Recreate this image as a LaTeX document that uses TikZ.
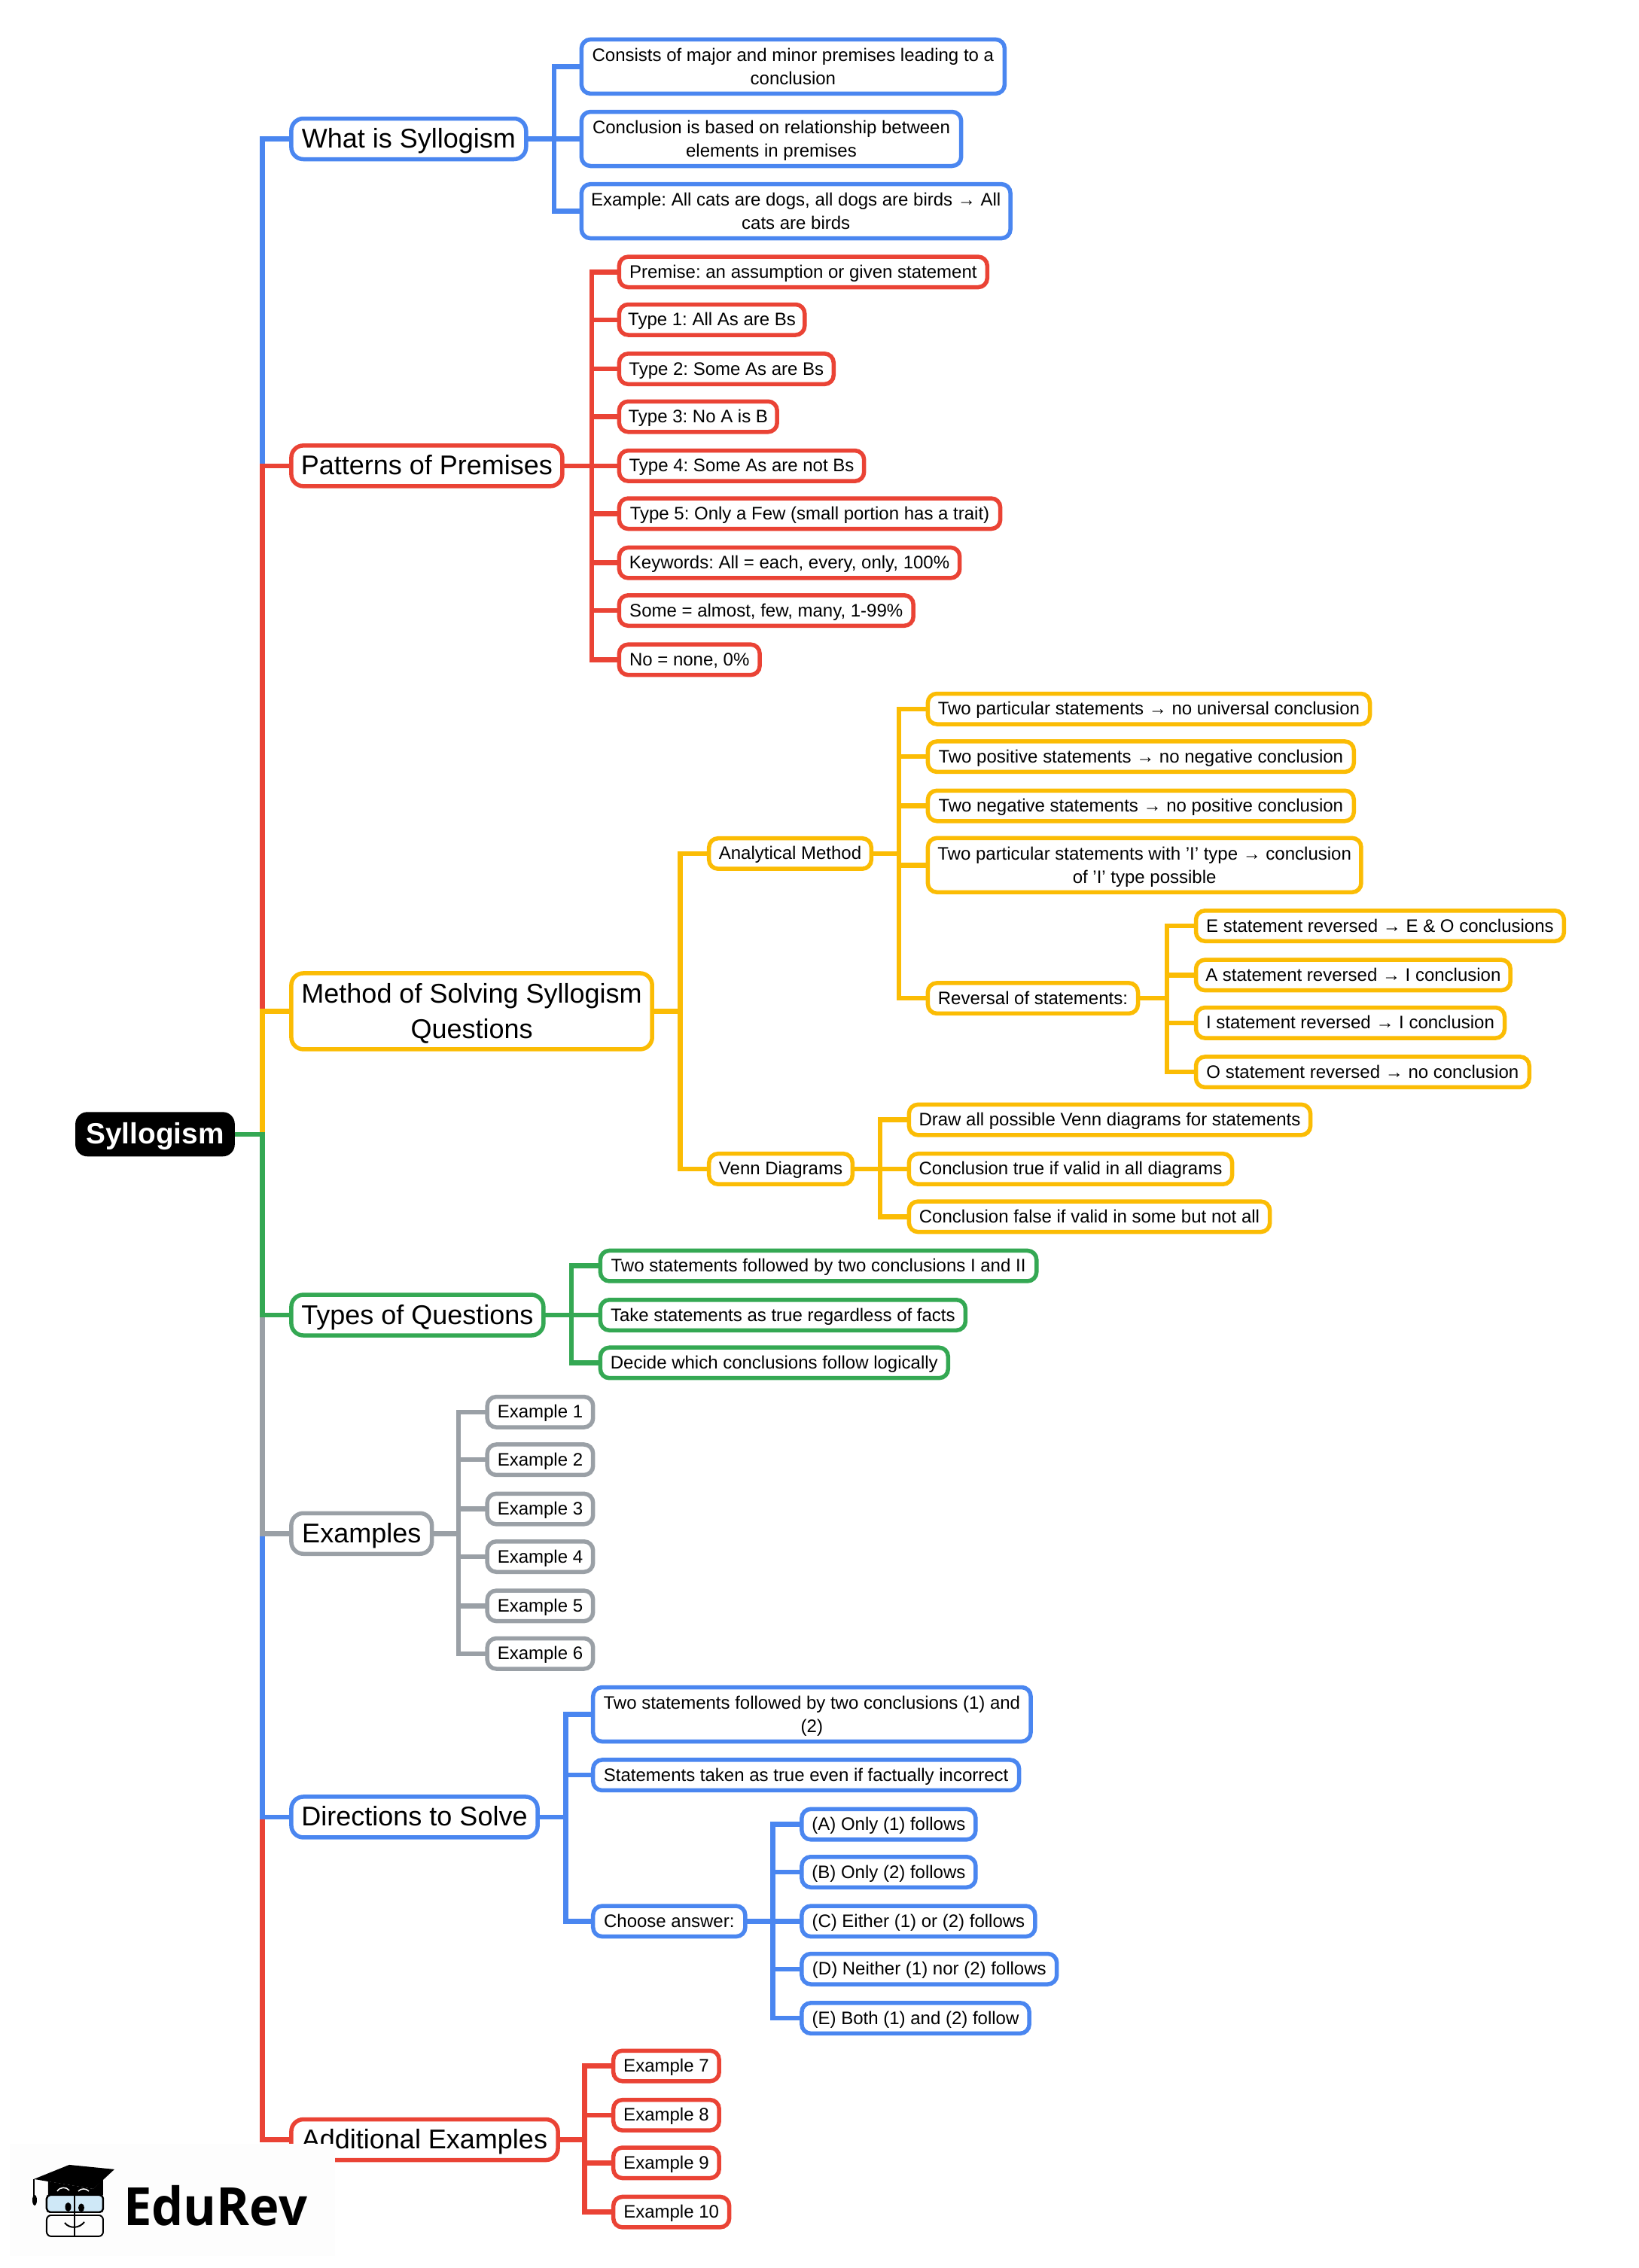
\documentclass[tikz,border=0pt]{standalone}
\usepackage{fontspec}
\setmainfont{Liberation Sans}
\newfontfamily\logofont{Open Sans}
\AtBeginDocument{\frenchspacing}
\definecolor{cblue}{HTML}{4A86F0}
\definecolor{cred}{HTML}{EA4335}
\definecolor{cyellow}{HTML}{FBBC04}
\definecolor{cgreen}{HTML}{34A853}
\definecolor{cgray}{HTML}{9AA0A6}
\definecolor{logobg}{HTML}{FDFDFD}
\definecolor{logoglass}{HTML}{CFE8F7}
\tikzset{
  basebox/.style={rounded corners=12pt,line width=5.5pt,fill=white,text=black,anchor=west,align=center,inner xsep=1pt,inner ysep=0pt,outer sep=0pt},
  small/.style={basebox,xshift=-1.5pt,draw=#1,minimum height=40.5pt,text height=17pt,text depth=1pt,font=\fontsize{24}{31}\selectfont},
  small2/.style={basebox,xshift=-1.5pt,draw=#1,minimum height=72pt,font=\fontsize{24}{31}\selectfont},
  large/.style={basebox,draw=#1,rounded corners=16pt,minimum height=54pt,text height=25pt,text depth=1pt,font=\fontsize{36}{47}\selectfont},
  large2/.style={basebox,draw=#1,rounded corners=16pt,minimum height=101pt,font=\fontsize{36}{47}\selectfont},
  rootbox/.style={fill=black,text=white,rounded corners=16pt,minimum height=59pt,anchor=west,inner xsep=1pt,inner ysep=0pt,outer sep=0pt,text height=27pt,text depth=1pt,font=\fontsize{38.8}{47}\selectfont\bfseries},
  link/.style={draw=#1,line width=6.5pt,line join=miter}
}
\newcommand{\mapbox}[6]{%
  \pgfmathsetlengthmacro{\boxw}{(#4-#3)*1.925}%
  \node[#1,minimum width=\boxw] (#2) at (#3,#5) {#6};}
\newcommand{\twoln}[2]{\rule{0pt}{23pt}#1\\#2\rule[-6pt]{0pt}{6pt}}
\newcommand{\twolnbig}[2]{\rule{0pt}{35pt}#1\\#2\rule[-9pt]{0pt}{9pt}}
% \linkall{colour}{parent}{bus x}{children}
\newcommand{\linkall}[4]{%
  \coordinate (bus#2) at (#3-0.7,0);%
  \foreach \kid in {#4} {\draw[link=#1] (#2.east) -- (#2.east -| bus#2) |- (\kid.west);}}
\begin{document}
\begin{tikzpicture}[x=1.925pt,y=-1.922pt]
\useasboundingbox[fill=white] (0,0) rectangle (1130.9,1567.7);
% root
\mapbox{rootbox}{root}{52}{162}{784}{Syllogism}
% What is Syllogism
\mapbox{large=cblue}{what}{201}{363}{96}{What is Syllogism}
\mapbox{small2=cblue}{what1}{402}{694}{46}{\twoln{Consists of major and minor premises leading to a}{conclusion}}
\mapbox{small2=cblue}{what2}{402}{664}{96}{\twoln{Conclusion is based on relationship between}{elements in premises}}
\mapbox{small2=cblue}{what3}{402}{698}{146}{\twoln{Example: All cats are dogs, all dogs are birds → All}{cats are birds}}
% Patterns
\mapbox{large=cred}{pat}{201}{388}{322}{Patterns of Premises}
\mapbox{small=cred}{pat1}{428}{682}{188}{Premise: an assumption or given statement}
\mapbox{small=cred}{pat2}{428}{556}{221}{Type 1: All As are Bs}
\mapbox{small=cred}{pat3}{428}{576}{255}{Type 2: Some As are Bs}
\mapbox{small=cred}{pat4}{428}{537}{288}{Type 3: No A is B}
\mapbox{small=cred}{pat5}{428}{597}{322}{Type 4: Some As are not Bs}
\mapbox{small=cred}{pat6}{428}{691}{355}{Type 5: Only a Few (small portion has a trait)}
\mapbox{small=cred}{pat7}{428}{663}{389}{Keywords: All = each, every, only, 100\%}
\mapbox{small=cred}{pat8}{428}{631}{422}{Some = almost, few, many, 1-99\%}
\mapbox{small=cred}{pat9}{428}{525}{456}{No = none, 0\%}
% Method
\mapbox{large2=cyellow}{met}{201}{450}{699}{\twolnbig{Method of Solving Syllogism}{Questions}}
\mapbox{small=cyellow}{ana}{490}{602}{590}{Analytical Method}
\mapbox{small=cyellow}{ven}{490}{589}{808}{Venn Diagrams}
\mapbox{small=cyellow}{ana1}{641}{946}{490}{Two particular statements → no universal conclusion}
\mapbox{small=cyellow}{ana2}{641}{935}{523}{Two positive statements → no negative conclusion}
\mapbox{small=cyellow}{ana3}{641}{935}{557}{Two negative statements → no positive conclusion}
\mapbox{small2=cyellow}{ana4}{641}{940}{598}{\twoln{Two particular statements with 'I' type → conclusion}{of 'I' type possible}}
\mapbox{small=cyellow}{rev}{641}{786}{690}{Reversal of statements:}
\mapbox{small=cyellow}{rev1}{826}{1080}{640}{E statement reversed → E \& O conclusions}
\mapbox{small=cyellow}{rev2}{826}{1043}{674}{A statement reversed → I conclusion}
\mapbox{small=cyellow}{rev3}{826}{1039}{707}{I statement reversed → I conclusion}
\mapbox{small=cyellow}{rev4}{826}{1056}{741}{O statement reversed → no conclusion}
\mapbox{small=cyellow}{ven1}{628}{905}{774}{Draw all possible Venn diagrams for statements}
\mapbox{small=cyellow}{ven2}{628}{851}{808}{Conclusion true if valid in all diagrams}
\mapbox{small=cyellow}{ven3}{628}{877}{841}{Conclusion false if valid in some but not all}
% Types
\mapbox{large=cgreen}{typ}{201}{375}{909}{Types of Questions}
\mapbox{small=cgreen}{typ1}{415}{716}{875}{Two statements followed by two conclusions I and II}
\mapbox{small=cgreen}{typ2}{415}{667}{909}{Take statements as true regardless of facts}
\mapbox{small=cgreen}{typ3}{415}{655}{942}{Decide which conclusions follow logically}
% Examples
\mapbox{large=cgray}{exa}{201}{298}{1060}{Examples}
\mapbox{small=cgray}{exa1}{337}{410}{976}{Example 1}
\mapbox{small=cgray}{exa2}{337}{410}{1009}{Example 2}
\mapbox{small=cgray}{exa3}{337}{410}{1043}{Example 3}
\mapbox{small=cgray}{exa4}{337}{410}{1076}{Example 4}
\mapbox{small=cgray}{exa5}{337}{410}{1110}{Example 5}
\mapbox{small=cgray}{exa6}{337}{410}{1143}{Example 6}
% Directions
\mapbox{large=cblue}{dir}{201}{371}{1256}{Directions to Solve}
\mapbox{small2=cblue}{dir1}{410}{712}{1185}{\twoln{Two statements followed by two conclusions (1) and}{(2)}}
\mapbox{small=cblue}{dir2}{410}{704}{1227}{Statements taken as true even if factually incorrect}
\mapbox{small=cblue}{cho}{410}{515}{1328}{Choose answer:}
\mapbox{small=cblue}{cho1}{554}{674}{1261}{(A) Only (1) follows}
\mapbox{small=cblue}{cho2}{554}{674}{1294}{(B) Only (2) follows}
\mapbox{small=cblue}{cho3}{554}{715}{1328}{(C) Either (1) or (2) follows}
\mapbox{small=cblue}{cho4}{554}{730}{1361}{(D) Neither (1) nor (2) follows}
\mapbox{small=cblue}{cho5}{554}{711}{1395}{(E) Both (1) and (2) follow}
% Additional
\mapbox{large=cred}{add}{201}{385}{1479}{Additional Examples}
\mapbox{small=cred}{add1}{424}{497}{1428}{Example 7}
\mapbox{small=cred}{add2}{424}{497}{1462}{Example 8}
\mapbox{small=cred}{add3}{424}{497}{1495}{Example 9}
\mapbox{small=cred}{add4}{424}{504}{1529}{Example 10}
% main spine, later segments paint over earlier ones
\coordinate (spine) at (181,784);
\foreach \c/\n in {cblue/what,cred/pat,cyellow/met,cred/add,cblue/dir,cgray/exa,cgreen/typ}
  {\draw[link=\c] (root.east) -- (spine) |- (\n.west);}
% branches
\linkall{cblue}{what}{383}{what1,what2,what3}
\linkall{cred}{pat}{409}{pat1,pat2,pat3,pat4,pat5,pat6,pat7,pat8,pat9}
\linkall{cyellow}{met}{470}{ana,ven}
\linkall{cyellow}{ana}{621}{ana1,ana2,ana3,ana4,rev}
\linkall{cyellow}{rev}{806}{rev1,rev2,rev3,rev4}
\linkall{cyellow}{ven}{608}{ven1,ven2,ven3}
\linkall{cgreen}{typ}{395}{typ1,typ2,typ3}
\linkall{cgray}{exa}{317}{exa1,exa2,exa3,exa4,exa5,exa6}
\linkall{cblue}{dir}{391}{dir1,dir2,cho}
\linkall{cblue}{cho}{534}{cho1,cho2,cho3,cho4,cho5}
\linkall{cred}{add}{404}{add1,add2,add3,add4}
% logo panel (drawn directly, in reference pixels)
\begin{scope}[x=1pt,y=-1pt]
\fill[logobg] (13,2848) rectangle (445,2997);
\fill[black] (45,2895) -- (92,2876) -- (152,2882) -- (124,2908) -- cycle;
\fill[black] (64,2898) -- (124,2908) -- (137,2895) -- (137,2916) -- (64,2916) -- cycle;
\draw[black,line width=1.5pt] (45,2895) -- (45,2917);
\fill[black] (46,2923) ellipse (3pt and 7pt);
\draw[black,line width=2.5pt,fill=logoglass,rounded corners=5pt] (62,2916) rectangle (137,2939);
\draw[black,line width=2pt,rounded corners=6pt] (62,2943) rectangle (137,2971);
\fill[white] (62,2940) rectangle (137,2942);
\draw[black,line width=2pt] (99,2915) -- (99,2972);
\fill[black] (90.5,2932) ellipse (4pt and 6pt);
\fill[black] (108,2933) ellipse (4pt and 5.5pt);
\draw[black,line width=2pt] (86,2953) .. controls (92,2961) and (105,2961) .. (112,2952);
\draw[white,line width=1.5pt] (76,2911) .. controls (80,2905) and (88,2905) .. (92,2910);
\draw[white,line width=1.5pt] (104,2911) .. controls (108,2907) and (114,2907) .. (118,2911);
\node[anchor=base west,inner sep=0pt,text=black,font=\fontsize{70}{70}\logofont\bfseries\selectfont] (logo) at (164,2957) {\scalebox{0.955}[1]{EduRev}};
\end{scope}
\end{tikzpicture}
\end{document}
